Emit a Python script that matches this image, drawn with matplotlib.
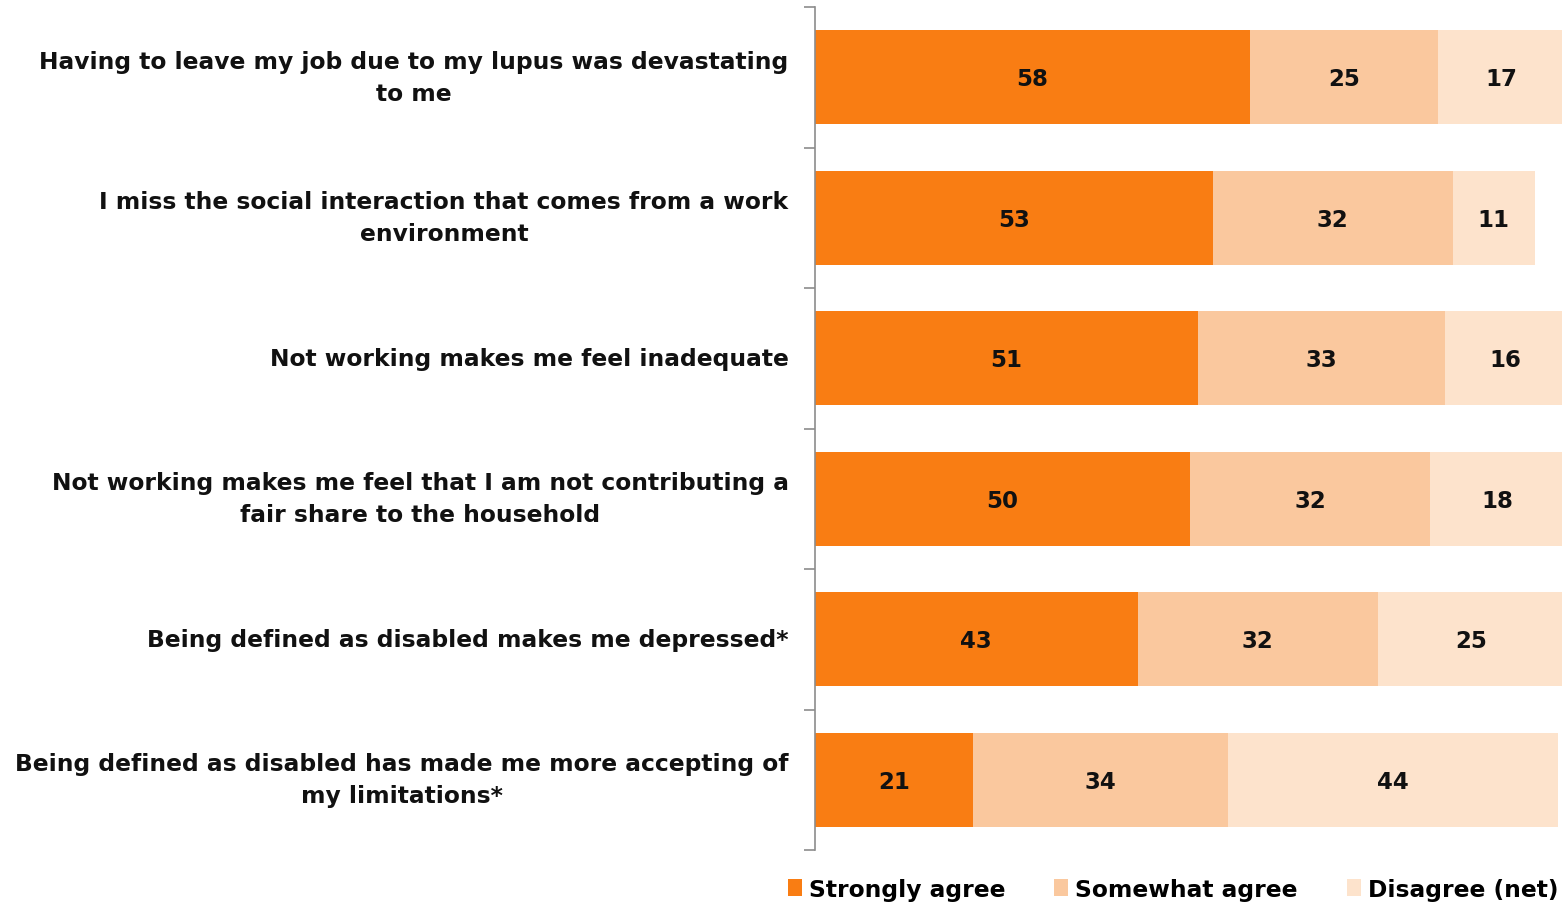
import numpy as np
import matplotlib.pyplot as plt
from matplotlib.patches import Patch

statements = [
    "Having to leave my job due to my lupus was devastating\nto me",
    "I miss the social interaction that comes from a work\nenvironment",
    "Not working makes me feel inadequate",
    "Not working makes me feel that I am not contributing a\nfair share to the household",
    "Being defined as disabled makes me depressed*",
    "Being defined as disabled has made me more accepting of\nmy limitations*",
]
strongly = [58, 53, 51, 50, 43, 21]
somewhat = [25, 32, 33, 32, 32, 34]
disagree = [17, 11, 16, 18, 25, 44]

series = ["Strongly agree", "Somewhat agree", "Disagree (net)"]
colors = ["#F97D13", "#FAC89E", "#FDE3CC"]

fig = plt.figure(figsize=(15.62, 9.04), dpi=100)
ax = fig.add_axes([815 / 1562, 53 / 904, 750 / 1562, 843 / 904])

y = np.arange(len(statements))
left = np.zeros(len(statements))
for vals, col in zip([strongly, somewhat, disagree], colors):
    vals = np.array(vals, dtype=float)
    ax.barh(y, vals, left=left, height=0.67, color=col, edgecolor="none")
    for yi, l, v in zip(y, left, vals):
        ax.text(l + v / 2, yi + 0.01, f"{int(v)}", ha="center", va="center",
                fontsize=16.5, fontweight="bold", color="#111111")
    left += vals

ax.set_xlim(0, 100)
ax.set_ylim(len(statements) - 0.5, -0.5)
ax.set_xticks([])
ax.set_yticks(y)
ax.set_yticklabels(statements, fontsize=16.8, fontweight="bold", va="center",
                   multialignment="center", color="#111111", linespacing=1.5)
ax.tick_params(axis="y", which="major", length=0, pad=19)
ax.set_yticks(np.arange(-0.5, len(statements)), minor=True)
ax.tick_params(axis="y", which="minor", length=8, width=1.2, color="#8c8c8c")

for s in ["top", "right", "bottom"]:
    ax.spines[s].set_visible(False)
ax.spines["left"].set_color("#8c8c8c")
ax.spines["left"].set_linewidth(1.2)

handles = [Patch(facecolor=c, edgecolor="none") for c in colors]
fig.legend(handles, series, loc="lower center", bbox_to_anchor=(1173 / 1562, -0.021),
           ncol=3, frameon=False, handlelength=0.6, handleheight=0.75,
           handletextpad=0.3, columnspacing=2.1,
           prop={"weight": "bold", "size": 16.8})

fig.savefig("out.png", dpi=100)
